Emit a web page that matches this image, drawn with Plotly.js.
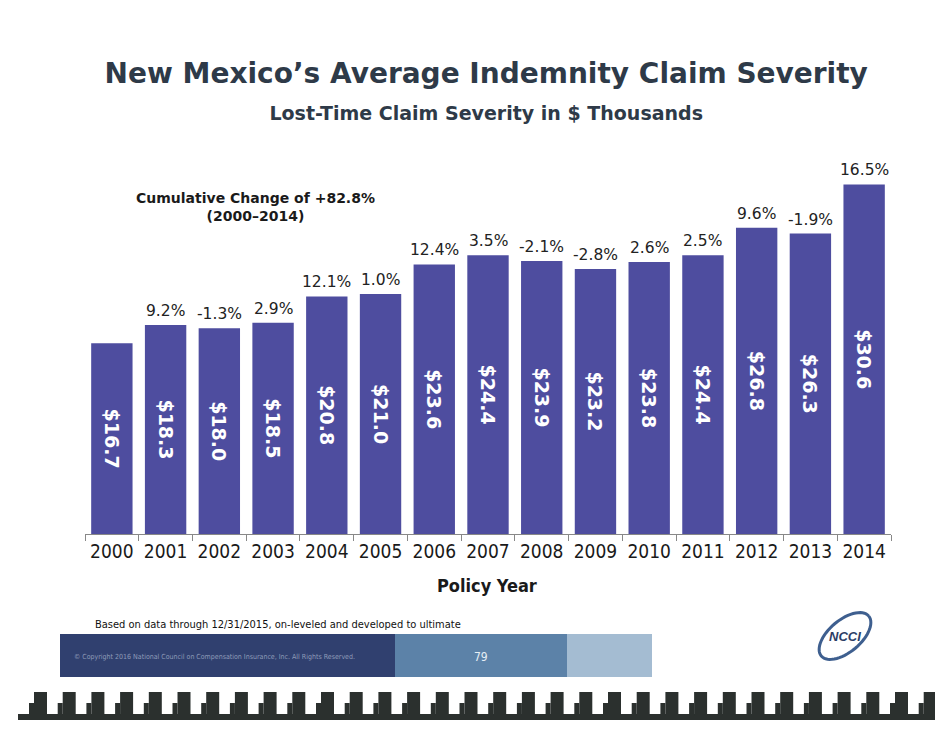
<!DOCTYPE html>
<html>
<head>
<meta charset="utf-8">
<script src="https://cdn.plot.ly/plotly-3.0.1.min.js"></script>
<style>html,body{margin:0;padding:0;background:#fff;}#chart{width:935px;height:730px;}</style>
</head>
<body>
<div id="chart"></div>
<script>
const years = ['2000','2001','2002','2003','2004','2005','2006','2007','2008','2009','2010','2011','2012','2013','2014'];
const severity = [16.7, 18.3, 18.0, 18.5, 20.8, 21.0, 23.6, 24.4, 23.9, 23.2, 23.8, 24.4, 26.8, 26.3, 30.6];
const changeLabels = ['', '9.2%', '-1.3%', '2.9%', '12.1%', '1.0%', '12.4%', '3.5%', '-2.1%', '-2.8%', '2.6%', '2.5%', '9.6%', '-1.9%', '16.5%'];

const barColor = '#4e4d9f';
const verdana = 'DejaVu Sans, Verdana, sans-serif';
const narrow = 'DejaVu Sans Condensed, Liberation Sans Narrow, sans-serif';

const trace = {
  type: 'bar',
  x: years,
  y: severity,
  marker: {color: barColor, line: {width: 0}},
  text: severity.map(v => '$' + v.toFixed(1)),
  textposition: 'inside',
  insidetextanchor: 'middle',
  textangle: 90,
  constraintext: 'none',
  textfont: {family: verdana, size: 19, color: '#ffffff', weight: 'bold'},
  hoverinfo: 'none'
};

const plotW = 935 - 85 - 44, plotH = 730 - 157 - 196;
function X(p){return (p - 85)/plotW;}
function Y(p){return (730 - 196 - p)/plotH;}

const annotations = [];
years.forEach((yr, i) => {
  if (changeLabels[i]) {
    annotations.push({
      x: i, y: severity[i], xref: 'x', yref: 'y',
      text: changeLabels[i], showarrow: false,
      yanchor: 'bottom', yshift: 3,
      font: {family: verdana, size: 15.5, color: '#222222'}
    });
  }
});

annotations.push(
  {xref: 'paper', yref: 'paper', x: X(255), y: Y(207), text: '<b>Cumulative Change of +82.8%</b><br><b>(2000\u20132014)</b>',
   showarrow: false, xanchor: 'center', yanchor: 'middle', align: 'center',
   font: {family: verdana, size: 14, color: '#1a1a1a'}},
  {xref: 'paper', yref: 'paper', x: X(487), y: Y(585), text: '<b>Policy Year</b>', showarrow: false,
   xanchor: 'center', yanchor: 'middle', font: {family: narrow, size: 18, color: '#1a1a1a'}},
  {xref: 'paper', yref: 'paper', x: X(93), y: Y(624), xanchor: 'left', yanchor: 'middle', showarrow: false,
   text: 'Based on data through 12/31/2015, on-leveled and developed to ultimate',
   font: {family: narrow, size: 11, color: '#111'}},
  {xref: 'paper', yref: 'paper', x: X(72), y: Y(657), xanchor: 'left', yanchor: 'middle', showarrow: false,
   text: '\u00a9 Copyright 2016 National Council on Compensation Insurance, Inc. All Rights Reserved.',
   font: {family: narrow, size: 7, color: '#8e9bb8'}},
  {xref: 'paper', yref: 'paper', x: X(481), y: Y(657), xanchor: 'center', yanchor: 'middle', showarrow: false,
   text: '79', font: {family: narrow, size: 12, color: '#e6eef5'}},
  {xref: 'paper', yref: 'paper', x: X(845), y: Y(636), xanchor: 'center', yanchor: 'middle', showarrow: false,
   text: '<b><i>NCCI</i></b>', font: {family: 'Liberation Sans, sans-serif', size: 13, color: '#2c3e66'}}
);

const shapes = [
  {type: 'rect', xref: 'paper', yref: 'paper', x0: X(60), x1: X(395), y0: Y(677), y1: Y(634), fillcolor: '#30406f', line: {width: 0}, layer: 'below'},
  {type: 'rect', xref: 'paper', yref: 'paper', x0: X(395), x1: X(567), y0: Y(677), y1: Y(634), fillcolor: '#5c82a8', line: {width: 0}, layer: 'below'},
  {type: 'rect', xref: 'paper', yref: 'paper', x0: X(567), x1: X(652), y0: Y(677), y1: Y(634), fillcolor: '#a4bcd2', line: {width: 0}, layer: 'below'},
  {type: 'path', xref: 'paper', yref: 'paper',
   path: (function(){
     const pts = []; const cx = 845, cy = 636, a = 31, b = 16, rot = -0.7;
     for (let k = 0; k <= 60; k++) {
       const t = 2*Math.PI*k/60; const ex = a*Math.cos(t), ey = b*Math.sin(t);
       pts.push([cx + ex*Math.cos(rot) - ey*Math.sin(rot), cy + ex*Math.sin(rot) + ey*Math.cos(rot)]);
     }
     return 'M' + pts.map(p => X(p[0]) + ',' + Y(p[1])).join(' L');
   })(),
   line: {color: '#3e5f8f', width: 3}},
  {type: 'rect', xref: 'paper', yref: 'paper', x0: X(18), x1: X(935), y0: Y(720), y1: Y(714), fillcolor: '#2b302e', line: {width: 0}}
];
for (let k = 0; k < 33; k++) {
  const x0 = 34 + k * 28.7;
  if (x0 > 935) break;
  shapes.push({type: 'rect', xref: 'paper', yref: 'paper', x0: X(x0), x1: X(x0 + 13), y0: Y(716), y1: Y(692), fillcolor: '#2b302e', line: {width: 0}});
  shapes.push({type: 'rect', xref: 'paper', yref: 'paper', x0: X(x0 - 5), x1: X(x0), y0: Y(716), y1: Y(703), fillcolor: '#2b302e', line: {width: 0}});
}

const layout = {
  width: 935, height: 730,
  paper_bgcolor: '#ffffff', plot_bgcolor: '#ffffff',
  margin: {l: 85, r: 44, t: 157, b: 196},
  title: {
    text: '<b>New Mexico\u2019s Average Indemnity Claim Severity</b><br><span style="font-size:19px"><b>Lost-Time Claim Severity in $ Thousands</b></span>',
    x: 0.52, xanchor: 'center', y: 0.886, yanchor: 'middle', yref: 'container',
    font: {family: verdana, size: 28, color: '#2e3a48'}
  },
  showlegend: false,
  bargap: 0.23,
  xaxis: {
    type: 'category', range: [-0.5, 14.5],
    tickson: 'boundaries', ticks: 'outside', ticklen: 6, tickcolor: '#888', tickwidth: 1,
    showline: true, linecolor: '#888', linewidth: 1, showgrid: false, zeroline: false,
    tickfont: {family: narrow, size: 19, color: '#1a1a1a'}, fixedrange: true
  },
  yaxis: {range: [0, 33], visible: false, showgrid: false, zeroline: false, fixedrange: true},
  annotations: annotations,
  shapes: shapes
};

Plotly.newPlot('chart', [trace], layout, {displayModeBar: false, staticPlot: true});
</script>
</body>
</html>
